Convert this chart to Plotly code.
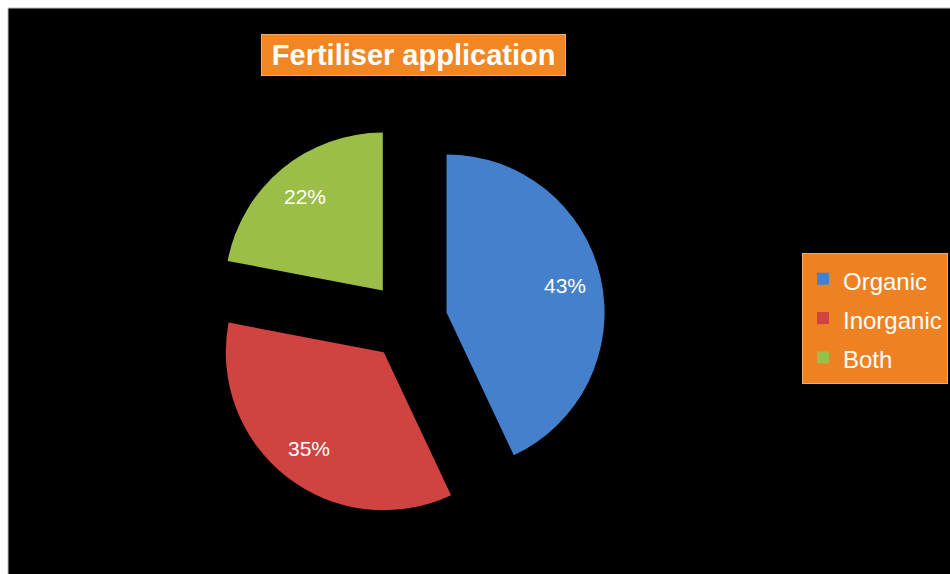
import math
import plotly.graph_objects as go

# Fertiliser application shares
labels = ["Organic", "Inorganic", "Both"]
values = [43, 35, 22]
colors = ["rgb(69,128,205)", "rgb(207,67,64)", "rgb(155,190,72)"]

W, H = 950, 574
PULL = 0.25
dom_x = [210.5 / W, 605.5 / W]
dom_y = [55.5 / H, 450.5 / H]

pie = go.Pie(
    labels=[f'<span style="font-size:24px">{l}</span>' for l in labels],
    values=values,
    sort=False,
    direction="clockwise",
    rotation=0,
    pull=[PULL] * len(values),
    marker=dict(colors=colors, line=dict(width=0)),
    textinfo="none",
    domain=dict(x=dom_x, y=dom_y),
    hoverinfo="label+percent",
)

fig = go.Figure(data=[pie])

# percentage labels, Excel style (further out along each slice's bisector)
cx = (dom_x[0] + dom_x[1]) / 2 * W
cy = (dom_y[0] + dom_y[1]) / 2 * H
r = min((dom_x[1] - dom_x[0]) * W, (dom_y[1] - dom_y[0]) * H) / (2 * (1 + PULL))
total = sum(values)
cum = 0
for v in values:
    ang = math.radians((cum + v / 2) / total * 360)
    cum += v
    d = (PULL + 0.77) * r
    fig.add_annotation(
        x=(cx + d * math.sin(ang)) / W,
        y=(cy + d * math.cos(ang)) / H,
        xref="paper", yref="paper",
        xanchor="center", yanchor="middle",
        text=f"{v / total * 100:.0f}%",
        showarrow=False,
        font=dict(family="Liberation Sans, Arial", size=21, color="white"),
    )

fig.add_annotation(
    text="<b>\u2009Fertiliser application\u2009</b>",
    x=413 / W, y=1 - 54.5 / H,
    xref="paper", yref="paper",
    xanchor="center", yanchor="middle",
    showarrow=False,
    font=dict(family="Liberation Sans, Arial", size=29, color="white"),
    bgcolor="rgb(240,134,36)",
    bordercolor="rgb(247,170,100)",
    borderwidth=1,
    borderpad=4,
)

fig.update_layout(
    width=W,
    height=H,
    margin=dict(l=0, r=0, t=0, b=0),
    paper_bgcolor="black",
    plot_bgcolor="black",
    showlegend=True,
    legend=dict(
        x=948 / W, xanchor="right",
        y=1 - 253 / H, yanchor="top",
        bgcolor="rgb(238,130,34)",
        bordercolor="rgb(247,170,100)",
        borderwidth=1,
        font=dict(family="Liberation Sans, Arial", size=28, color="white"),
    ),
    shapes=[
        # white page margin at top and left
        dict(type="rect", xref="paper", yref="paper", x0=0, x1=1,
             y0=1 - 8 / H, y1=1, fillcolor="white", line=dict(width=0)),
        dict(type="rect", xref="paper", yref="paper", x0=0, x1=8 / W,
             y0=0, y1=1, fillcolor="white", line=dict(width=0)),
        dict(type="line", xref="paper", yref="paper", x0=8 / W, x1=1,
             y0=1 - 8 / H, y1=1 - 8 / H, line=dict(color="#bdbdbd", width=1)),
        dict(type="line", xref="paper", yref="paper", x0=8 / W, x1=8 / W,
             y0=0, y1=1 - 8 / H, line=dict(color="#bdbdbd", width=1)),
    ],
)

fig.write_html(
    "out.html",
    config={"displayModeBar": False},
    post_script="document.body.style.margin='0';document.body.style.overflow='hidden';",
)
